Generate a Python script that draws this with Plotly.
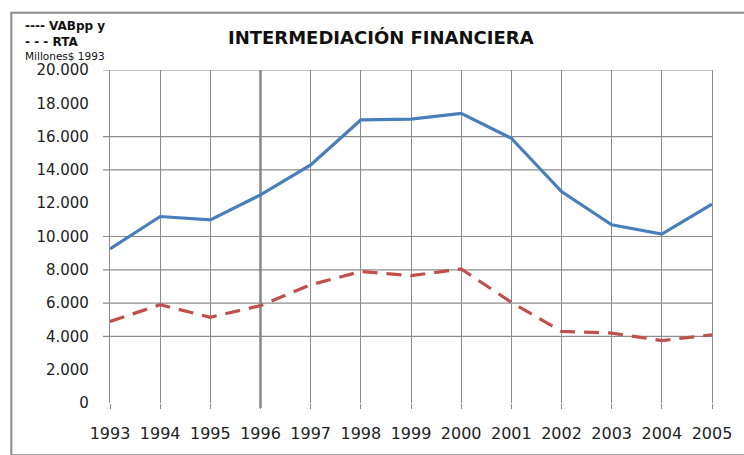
import plotly.graph_objects as go

years = [1993, 1994, 1995, 1996, 1997, 1998, 1999, 2000, 2001, 2002, 2003, 2004, 2005]
vab = [9260, 11200, 11000, 12500, 14300, 17000, 17050, 17400, 15900, 12700, 10700, 10150, 11950]
rta = [4900, 5900, 5150, 5850, 7100, 7900, 7650, 8050, 6050, 4300, 4200, 3750, 4100]
y_ticks = [0, 2000, 4000, 6000, 8000, 10000, 12000, 14000, 16000, 18000, 20000]
y_labels = ["0", "2.000", "4.000", "6.000", "8.000", "10.000", "12.000", "14.000", "16.000", "18.000", "20.000"]
grid_y = [4000, 6000, 8000, 10000, 14000, 16000, 20000]

GRID = "#8c8c8c"
FONT = "DejaVu Sans"

fig = go.Figure()
fig.add_trace(go.Scatter(x=years, y=vab, mode="lines", name="VABpp y",
                         line=dict(color="#4A7EBB", width=3.2)))
fig.add_trace(go.Scatter(x=years, y=rta, mode="lines", name="RTA",
                         line=dict(color="#C0504D", width=3.2, dash="15px,9px")))

shapes = []
for g in grid_y:
    shapes.append(dict(type="line", xref="paper", yref="y", x0=-7/604, x1=1, y0=g, y1=g,
                       line=dict(color=GRID, width=1.2), layer="below"))
shapes.append(dict(type="line", xref="x", yref="paper", x0=1996, x1=1996, y0=-5/337, y1=1,
                   line=dict(color="#7a7a7a", width=2.4), layer="below"))
shapes.append(dict(type="rect", xref="paper", yref="paper", x0=-99/604, x1=640/604,
                   y0=-53/337, y1=395/337, line=dict(color="#8a8a8a", width=2),
                   fillcolor="rgba(0,0,0,0)"))
fig.update_layout(shapes=shapes)

fig.update_xaxes(range=[1993, 2005], tickmode="array", tickvals=years,
                 ticktext=[str(y) for y in years], showgrid=True, gridcolor=GRID, gridwidth=1.2,
                 ticks="outside", ticklen=5, tickcolor=GRID, tickwidth=1.2,
                 showline=False, zeroline=False, ticklabelstandoff=11,
                 tickfont=dict(family=FONT, size=16, color="#222"))
fig.update_yaxes(range=[0, 20000], tickmode="array", tickvals=y_ticks, ticktext=y_labels,
                 showgrid=False, zeroline=False, showline=True, mirror=True,
                 linecolor=GRID, linewidth=1.2, ticks="", ticklabelstandoff=17,
                 tickfont=dict(family=FONT, size=15, color="#222"))

fig.update_layout(
    width=744, height=455,
    margin=dict(l=110, r=30, t=70, b=48),
    paper_bgcolor="white", plot_bgcolor="white",
    showlegend=False,
    annotations=[
        dict(text="<b>INTERMEDIACIÓN FINANCIERA</b>", xref="paper", yref="paper",
             x=(382 - 110) / 604, y=(407 - 37) / 337, xanchor="center", yanchor="middle",
             showarrow=False, font=dict(family=FONT, size=18, color="#111")),
        dict(text="<b>---- VABpp y</b>", xref="paper", yref="paper",
             x=(23 - 110) / 604, y=(407 - 25) / 337, xanchor="left", yanchor="middle",
             showarrow=False, font=dict(family=FONT, size=12, color="#111")),
        dict(text="<b>- - - RTA</b>", xref="paper", yref="paper",
             x=(23 - 110) / 604, y=(407 - 42) / 337, xanchor="left", yanchor="middle",
             showarrow=False, font=dict(family=FONT, size=12, color="#111")),
        dict(text="Millones$ 1993", xref="paper", yref="paper",
             x=(23 - 110) / 604, y=(407 - 56) / 337, xanchor="left", yanchor="middle",
             showarrow=False, font=dict(family=FONT, size=10.5, color="#111")),
    ],
)

fig.write_html("out.html", config={"displayModeBar": False},
               post_script="document.body.style.margin='0';document.body.style.padding='0';")
